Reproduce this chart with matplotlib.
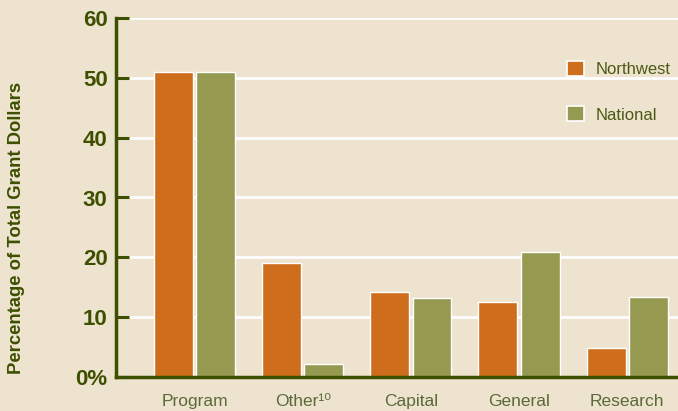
import matplotlib
matplotlib.use("Agg")
import matplotlib.pyplot as plt
import numpy as np

categories = ["Program", "Other¹⁰", "Capital", "General", "Research"]
northwest = [51.0, 19.1, 14.2, 12.6, 4.8]
national = [51.0, 2.2, 13.2, 20.9, 13.4]
yticks = [0, 10, 20, 30, 40, 50, 60]
ytick_labels = ["0%", "10", "20", "30", "40", "50", "60"]

FONT = ["Liberation Sans", "DejaVu Sans"]
plt.rcParams["font.family"] = FONT

bg = "#EEE3CE"
orange = "#CE6D1B"
green = "#959A50"
dark = "#3D5000"
textc = "#4A5A14"

fig = plt.figure(figsize=(6.78, 4.11), dpi=100, facecolor=bg)
ax = fig.add_axes([116/678, 1-377/411, 1-116/678, (377-18)/411])
ax.set_facecolor(bg)

x = np.arange(len(categories))
w = 0.36
off = 0.195
ax.bar(x - off, northwest, w, color=orange, edgecolor="white", linewidth=1, zorder=3, label="Northwest")
ax.bar(x + off, national, w, color=green, edgecolor="white", linewidth=1, zorder=3, label="National")

ax.set_xlim(-0.727, 4.47)
ax.set_ylim(0, 60)
ax.set_yticks(yticks)
ax.set_yticklabels(ytick_labels, fontsize=16, fontweight="bold", color=dark)
ax.set_xticks(x)
ax.set_xticklabels(categories, fontsize=12.5, color="#5A6A3A")
ax.tick_params(axis="x", length=0, pad=12)
ax.tick_params(axis="y", direction="in", length=9, width=2.2, color=dark, pad=6)

for v in yticks[1:]:
    ax.axhline(v, xmin=0.025, color="white", linewidth=2, zorder=1)

for s in ["top", "right"]:
    ax.spines[s].set_visible(False)
for s in ["left", "bottom"]:
    ax.spines[s].set_color(dark)
    ax.spines[s].set_linewidth(2.5)
    ax.spines[s].set_zorder(4)

fig.text(17/678, 1-228/411, "Percentage of Total Grant Dollars", rotation=90,
         ha="center", va="center", fontsize=13.3, fontweight="bold", color=dark)

leg = ax.legend(loc="upper left", bbox_to_anchor=(0.8025, 0.88), frameon=False,
                fontsize=12, handlelength=1.0, handleheight=1.0, labelspacing=1.75,
                handletextpad=0.7, borderpad=0, borderaxespad=0)
for t in leg.get_texts():
    t.set_color(textc)
for h in leg.legend_handles:
    h.set_edgecolor("white")
    h.set_linewidth(1.2)

fig.savefig("out.png", dpi=100, facecolor=bg)
